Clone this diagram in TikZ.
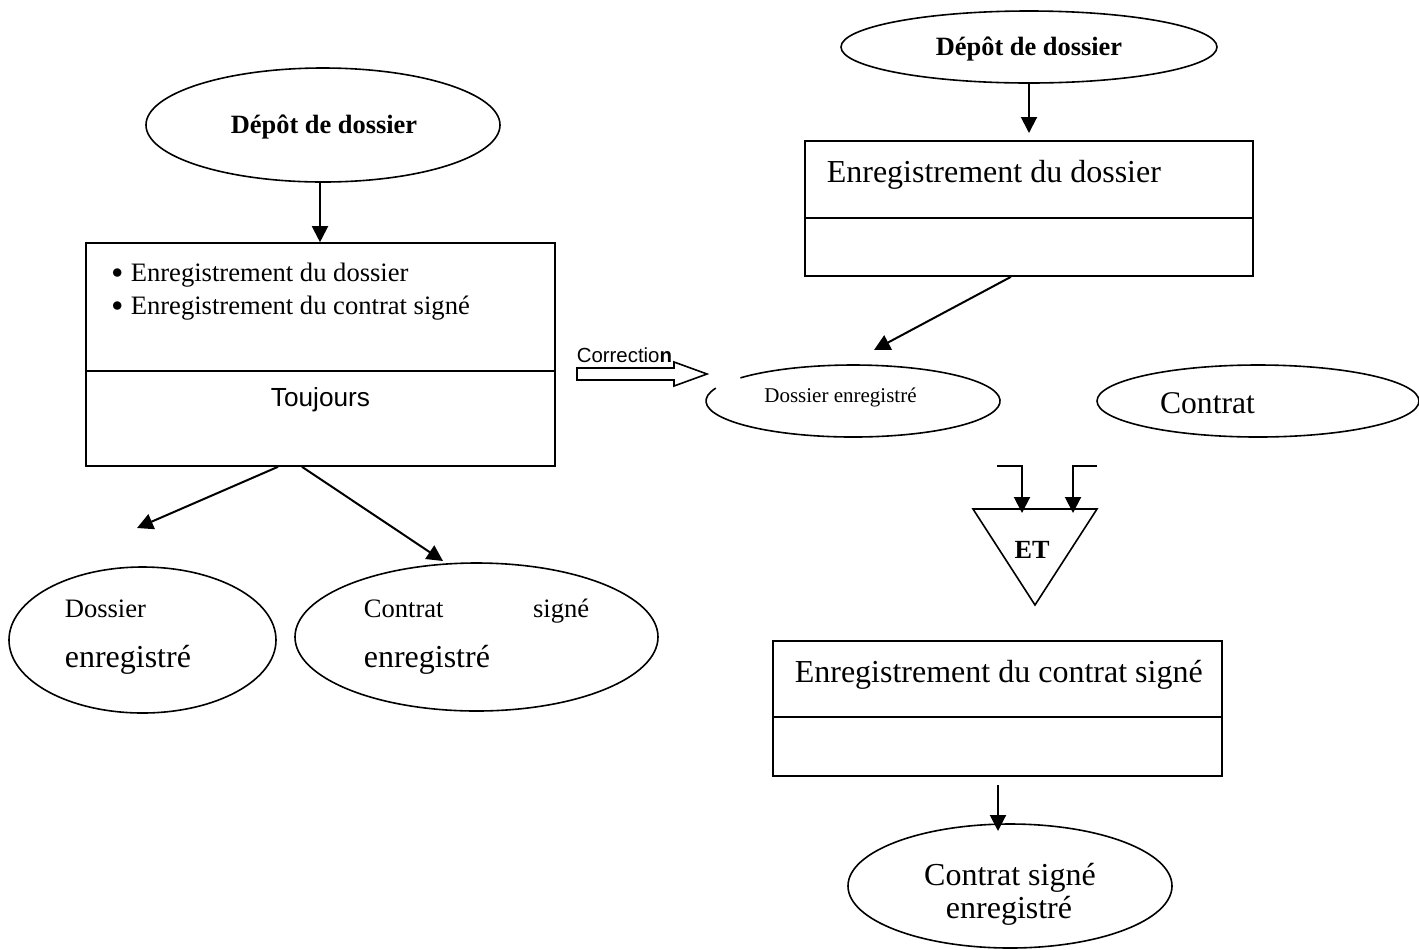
\documentclass[tikz,border=0pt]{standalone}
\usepackage{fontspec}
\setmainfont{Liberation Serif}
\newfontfamily\arialfont{Liberation Sans}
\usetikzlibrary{arrows.meta,shapes.geometric}

% font sizes used in the chart
\newcommand\fsbig{\fontsize{16}{19}\selectfont}
\newcommand\fsmid{\fontsize{13.3}{16}\selectfont}
\newcommand\fssmall{\fontsize{10.5}{12}\selectfont}
\newcommand\itemdot{\makebox[9.5pt][l]{\raisebox{1.2pt}{\fontsize{11}{12}\selectfont$\bullet$}}}

\begin{document}
\begin{tikzpicture}[x=0.5pt,y=-0.5pt,line width=0.8pt,
  oval/.style={ellipse,draw,inner sep=0pt},
  stepbox/.style={rectangle,draw,inner sep=0pt},
  arr/.style={-{Triangle[length=8pt,width=8pt]},line width=1pt},
  txt/.style={inner sep=0pt,anchor=base west},
  ctxt/.style={inner sep=0pt}]
\useasboundingbox (0,0) rectangle (1419,949);

% ---------- left chart ----------
\node[oval,minimum width=177pt,minimum height=57pt] (ldep) at (323,125) {};
\node[ctxt] (ldept) at (324,127) {\fontsize{13.2}{16}\selectfont\bfseries Dépôt de dossier};
\node[stepbox,minimum width=234.5pt,minimum height=111.5pt] (lbox) at (320.5,354.5) {};
\draw (lbox.west |- 0,371) -- (lbox.east |- 0,371);
\draw[arr] (ldep.south -| 320,0) -- (lbox.north -| 320,0);
\node[txt] (li1) at (111,281) {\fsmid\itemdot Enregistrement du dossier};
\node[txt] (li2) at (111,314) {\fsmid\itemdot Enregistrement du contrat signé};
\node[ctxt] (tj) at (320.5,400) {\arialfont\fontsize{13.1}{16}\selectfont Toujours};

\node[oval,minimum width=133.5pt,minimum height=73pt] (ldos) at (142.5,640) {};
\node[txt] (ldosa) at (64,617) {\fsmid Dossier};
\node[txt] (ldosb) at (64,667) {\fsbig enregistré};

\node[oval,minimum width=181.5pt,minimum height=74pt] (lcon) at (476.5,637) {};
\node[txt] (lcona) at (363,617) {\fsmid Contrat};
\node[txt,anchor=base east] (lconb) at (590,617) {\fsmid signé};
\node[txt] (lconc) at (363,667) {\fsbig enregistré};

\coordinate (ltipa) at (137,528);
\coordinate (ltipb) at (443,561);
\draw[arr] (lbox.south -| 278,0) -- (ltipa);
\draw[arr] (lbox.south -| 302,0) -- (ltipb);

% ---------- correction arrow ----------
\node[anchor=west,inner sep=0pt] (corr) at (576,355)
  {\arialfont\fontsize{10.2}{12}\selectfont Correctio\textbf{n}};
\draw (577,368) -- (674,368) -- (674,362) -- (707,374) -- (674,386)
  -- (674,380) -- (577,380) -- cycle;

% ---------- right chart ----------
\node[oval,minimum width=188pt,minimum height=36pt] (rdep) at (1029,47) {};
\node[ctxt] (rdept) at (1029,49) {\fontsize{13.2}{16}\selectfont\bfseries Dépôt de dossier};
\node[stepbox,minimum width=224pt,minimum height=67.5pt] (rboxa) at (1029,208.5) {};
\draw (rboxa.west |- 0,218) -- (rboxa.east |- 0,218);
\node[txt] (rboxat) at (826,182) {\fsbig Enregistrement du dossier};
\coordinate (rtipa) at (1029,133);
\draw[arr] (rdep.south) -- (rtipa);

\node[ellipse,minimum width=147pt,minimum height=36pt,inner sep=0pt] (rdos) at (853,401) {};
\draw (715.8,388.1) arc[start angle=159,end angle=500,x radius=73.5pt,y radius=18pt];
\node[ctxt] (rdost) at (840.5,397) {\fssmall Dossier enregistré};
\coordinate (rtipb) at (874,350);
\draw[arr] (rboxa.south -| 1011,0) -- (rtipb);

\node[oval,minimum width=161pt,minimum height=36pt] (rcon) at (1258,401) {};
\node[ctxt] (rcont) at (1207.5,403) {\fontsize{15.8}{19}\selectfont Contrat};

% AND gate
\coordinate (etL) at (973,509);
\coordinate (etR) at (1097,509);
\coordinate (etB) at (1035,605);
\draw (etL) -- (etR) -- (etB) -- cycle;
\node[ctxt] (et) at (1032,550) {\fontsize{13.1}{16}\selectfont\bfseries ET};
\coordinate (ina) at (997,466);
\coordinate (inb) at (1097,466);
\draw[arr] (ina) -- (1022,466) -- (1022,513);
\draw[arr] (inb) -- (1073,466) -- (1073,513);

\node[stepbox,minimum width=224.5pt,minimum height=67.5pt] (rboxb) at (997.5,708.5) {};
\draw (rboxb.west |- 0,717) -- (rboxb.east |- 0,717);
\node[txt] (rboxbt) at (794,682) {\fsbig Enregistrement du contrat signé};

\node[oval,minimum width=162pt,minimum height=62pt] (rfin) at (1010,886) {};
\node[inner sep=0pt,anchor=base] (rfina) at (1010,885) {\fsbig Contrat signé};
\node[inner sep=0pt,anchor=base] (rfinb) at (1009,918) {\fsbig enregistré};
\coordinate (rtipc) at (998,831);
\draw[arr] (rboxb.south -| 998,0) ++(0,8) -- (rtipc);
\end{tikzpicture}
\end{document}
